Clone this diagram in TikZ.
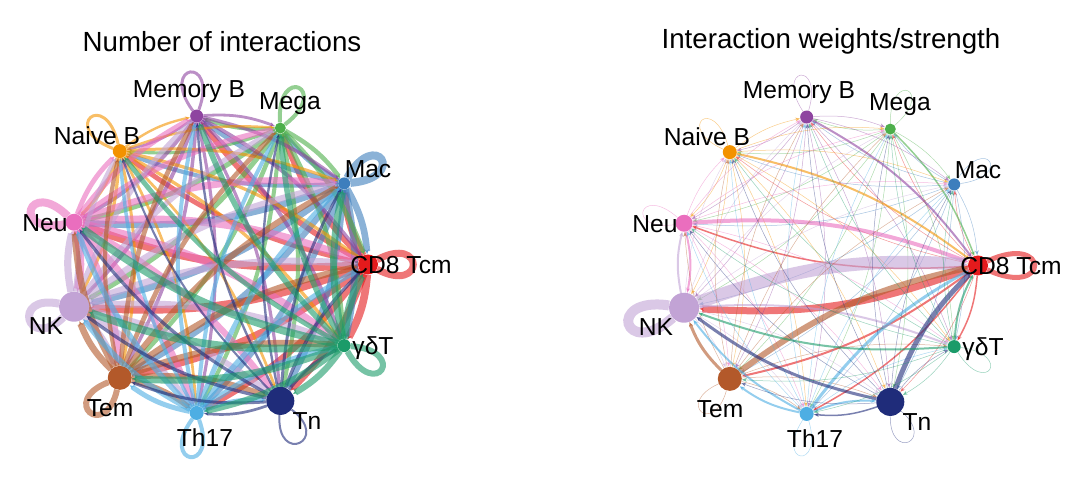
\documentclass[tikz,border=0pt]{standalone}
\usepackage{fontspec}
\setmainfont{Liberation Sans}
\usetikzlibrary{arrows.meta, backgrounds}
\definecolor{cdeight}{HTML}{E41A1C}
\definecolor{mac}{HTML}{3D7EBD}
\definecolor{mega}{HTML}{4CAF4A}
\definecolor{memb}{HTML}{8E44A0}
\definecolor{naiveb}{HTML}{F39200}
\definecolor{neu}{HTML}{EA6EBE}
\definecolor{nk}{HTML}{C2A3D5}
\definecolor{tem}{HTML}{B3592A}
\definecolor{thst}{HTML}{4DAEE3}
\definecolor{tn}{HTML}{1F2C7A}
\definecolor{gdt}{HTML}{1B9B69}
% strong links of the weight plot, all other links are thin
\newcommand\setwgt[3]{\expandafter\gdef\csname wgt@#1@#2\endcsname{#3}}
\setwgt{nk}{cdeight}{13}
\setwgt{cdeight}{nk}{7}
\setwgt{tem}{cdeight}{6}
\setwgt{tn}{cdeight}{5}
\setwgt{neu}{cdeight}{4}
\setwgt{thst}{cdeight}{3}
\setwgt{naiveb}{cdeight}{2}
\setwgt{memb}{cdeight}{2}
\setwgt{gdt}{cdeight}{2}
\setwgt{mega}{cdeight}{1.5}
\setwgt{cdeight}{neu}{1.5}
\setwgt{cdeight}{tem}{2}
\setwgt{cdeight}{thst}{1.5}
\setwgt{cdeight}{gdt}{1.5}
\setwgt{tem}{nk}{3}
\setwgt{tn}{nk}{3}
\setwgt{gdt}{nk}{2}
\setwgt{nk}{gdt}{2}
\setwgt{thst}{nk}{2}
\setwgt{neu}{nk}{2}
\setwgt{nk}{neu}{2}
\setwgt{thst}{tem}{2}
\setwgt{thst}{tn}{2}
\setwgt{tn}{thst}{1.5}
\setwgt{nk}{nk}{10}
\setwgt{cdeight}{cdeight}{5}

\begin{document}
\begin{tikzpicture}[x=1pt, y=1pt]

% TikZ styles
\tikzset{
  cell/.style={circle, inner sep=0pt, minimum size=#1},
  celllabel/.style={inner sep=0pt, anchor=base, font=\fontsize{24.6}{28}\selectfont},
  plottitle/.style={inner sep=0pt, anchor=base, font=\fontsize{27.7}{32}\selectfont},
  link/.style={-{Stealth[length=5pt, width=4pt]}, bend left=12, opacity=0.6},
  thinlink/.style={link, opacity=0.45},
  selfloop/.style={opacity=0.6}
}
\useasboundingbox (0,0) rectangle (1080,481);

\node[plottitle] (numtitle) at (222,429) {Number of interactions};
\node[plottitle] (wgttitle) at (831,432) {Interaction weights/strength};

%==========================
% cells on the circle, same layout in both plots
%==========================
\foreach \p/\cx/\cy in {num/218/216.5, wgt/828/215.5}{
  \begin{scope}[shift={(\cx,\cy)}]
    \foreach \n/\a/\d in {cdeight/0/20, mac/32.73/12, mega/65.45/11, memb/98.18/13, naiveb/130.91/14, neu/163.64/17, nk/196.36/30, tem/229.09/24, thst/261.82/14, tn/294.55/28, gdt/327.27/13}
      \node[cell=\d pt, fill=\n] (\p-\n) at (\a:150) {};
    \foreach \n/\x/\y/\txt in {memb/-29/166.5/Memory B, mega/72/154.5/Mega, naiveb/-121/119.5/Naive B, mac/150/86.5/Mac, neu/-173/32.5/Neu, cdeight/183/-9.5/CD8 Tcm, nk/-172/-70.5/NK, gdt/155/-90.5/γδT, tem/-108/-152.5/Tem, thst/-13/-182.5/Th17, tn/89/-165.5/Tn}
      \node[celllabel] (\p-\n-lab) at (\x,\y) {\txt};
  \end{scope}
}

\begin{scope}[on background layer]
% Left: number of interactions
\foreach \s/\a/\ws/\wl in {cdeight/0/1.4/7, mac/32.73/1.2/8, mega/65.45/0.9/4, memb/98.18/0.7/3, naiveb/130.91/0.6/3, neu/163.64/1.4/8, nk/196.36/1.3/8, tem/229.09/1.2/6, thst/261.82/1.0/4, tn/294.55/0.6/2, gdt/327.27/1.4/6}{
  \foreach \t/\wt in {cdeight/5.5, mac/5, mega/4, memb/4, naiveb/3.5, neu/5.5, nk/5.5, tem/5, thst/4.5, tn/4.5, gdt/5.5}{
    \ifx\s\t
      \draw[selfloop, draw=\s, line width=\wl pt] (num-\s) .. controls +(\a+28:65) and +(\a-28:65) .. (num-\s);
    \else
      \pgfmathsetmacro\w{\ws*\wt}
      \draw[link, draw=\s, line width=\w pt] (num-\s) to (num-\t);
    \fi
  }
}

% Right: interaction weights
\foreach \s/\a in {cdeight/0, mac/32.73, mega/65.45, memb/98.18, naiveb/130.91, neu/163.64, nk/196.36, tem/229.09, thst/261.82, tn/294.55, gdt/327.27}{
  \foreach \t in {cdeight, mac, mega, memb, naiveb, neu, nk, tem, thst, tn, gdt}{
    \ifcsname wgt@\s@\t\endcsname
      \edef\w{\csname wgt@\s@\t\endcsname}
      \ifx\s\t
        \draw[selfloop, draw=\s, line width=\w pt] (wgt-\s) .. controls +(\a+25:80) and +(\a-25:80) .. (wgt-\s);
      \else
        \draw[link, draw=\s, line width=\w pt] (wgt-\s) to (wgt-\t);
      \fi
    \else
      \ifx\s\t
        \draw[selfloop, opacity=0.45, draw=\s, line width=0.5pt] (wgt-\s) .. controls +(\a+25:60) and +(\a-25:60) .. (wgt-\s);
      \else
        \draw[thinlink, draw=\s, line width=0.5pt] (wgt-\s) to (wgt-\t);
      \fi
    \fi
  }
}
\end{scope}
\end{tikzpicture}
\end{document}
